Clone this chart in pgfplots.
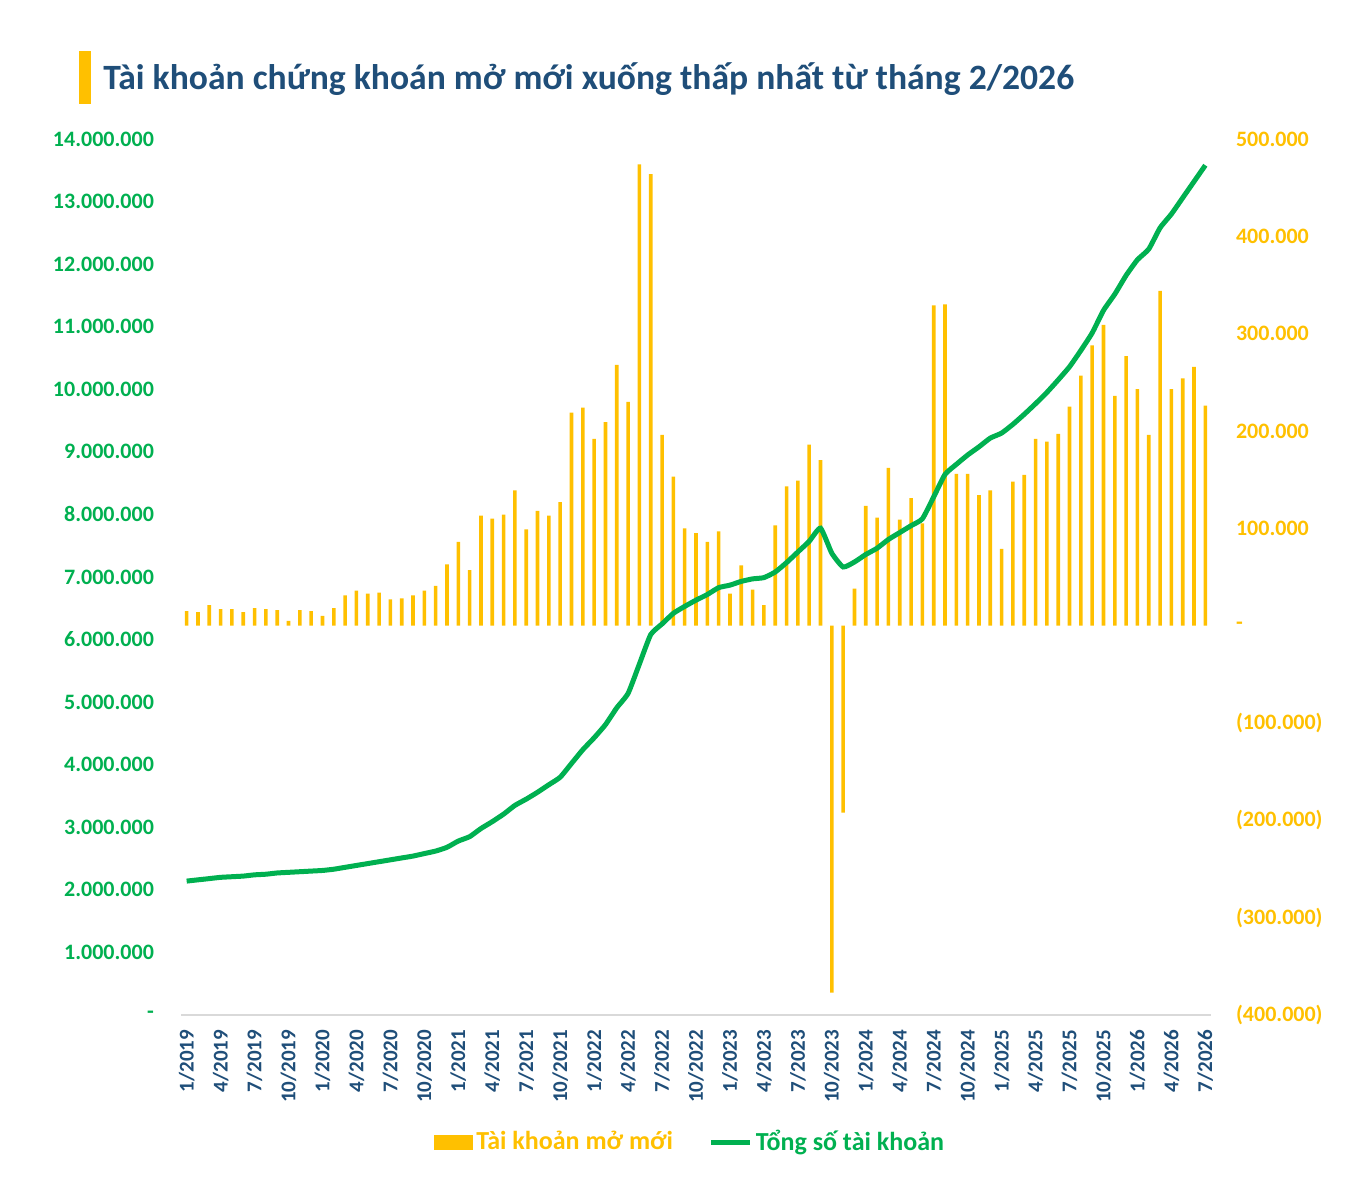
\documentclass[border=0pt]{standalone}
\usepackage{fontspec}
\setmainfont{Carlito}
\usepackage{pgfplots}
\usepackage{pgfplotstable}
\pgfplotsset{compat=1.18}
\definecolor{barc}{RGB}{255,192,0}
\definecolor{linec}{RGB}{0,176,80}
\definecolor{navy}{RGB}{31,78,121}
\definecolor{axgray}{RGB}{217,217,217}

\pgfplotstableread{
i new total
0 15000 2140000
1 14000 2160000
2 21000 2180000
3 17000 2200000
4 17000 2210000
5 14000 2220000
6 18000 2240000
7 17000 2250000
8 16000 2270000
9 5000 2280000
10 16000 2290000
11 15000 2300000
12 10000 2310000
13 18000 2330000
14 31000 2360000
15 36000 2390000
16 33000 2420000
17 34000 2450000
18 27000 2480000
19 28000 2510000
20 31000 2540000
21 36000 2580000
22 41000 2620000
23 63000 2680000
24 86000 2780000
25 57000 2850000
26 113000 2980000
27 110000 3090000
28 114000 3210000
29 139000 3350000
30 99000 3450000
31 118000 3560000
32 113000 3680000
33 127000 3800000
34 219000 4020000
35 224000 4240000
36 192000 4430000
37 209000 4640000
38 268000 4910000
39 230000 5140000
40 474000 5610000
41 464000 6080000
42 196000 6250000
43 153000 6420000
44 100000 6530000
45 95000 6630000
46 86000 6720000
47 97000 6830000
48 33000 6870000
49 62000 6930000
50 37000 6970000
51 21000 6990000
52 103000 7080000
53 143000 7230000
54 149000 7400000
55 186000 7570000
56 170000 7780000
57 -377000 7380000
58 -192000 7160000
59 38000 7240000
60 123000 7360000
61 111000 7460000
62 162000 7600000
63 109000 7710000
64 131000 7820000
65 105000 7930000
66 329000 8280000
67 330000 8640000
68 156000 8800000
69 156000 8950000
70 134000 9080000
71 139000 9220000
72 79000 9300000
73 148000 9440000
74 155000 9600000
75 192000 9770000
76 189000 9950000
77 197000 10150000
78 225000 10360000
79 257000 10620000
80 288000 10900000
81 309000 11260000
82 236000 11520000
83 277000 11820000
84 243000 12070000
85 196000 12240000
86 344000 12580000
87 243000 12800000
88 254000 13060000
89 266000 13320000
90 226000 13580000
}\data

\begin{document}
\begin{tikzpicture}
\useasboundingbox (0,0) rectangle (680pt,592pt);
% title
\fill[barc] (39.5pt,566.5pt) rectangle (45.5pt,540pt);
\node[anchor=base west, inner sep=0pt, text=navy, font=\fontsize{17.8}{21}\selectfont\bfseries] at (51.5pt,547pt) {Tài khoản chứng khoán mở mới xuống thấp nhất từ tháng 2/2026};

% bars, right axis
\begin{axis}[
  at={(90.5pt,84.5pt)}, anchor=south west,
  scale only axis, width=515pt, height=438pt,
  xmin=-0.5, xmax=90.5,
  ymin=-400000, ymax=500000,
  axis line style={draw=none},
  major tick length=0pt,
  xtick=\empty,
  ytick={-400000,-300000,-200000,-100000,0,100000,200000,300000,400000,500000},
  yticklabels={(400.000),(300.000),(200.000),(100.000),-,100.000,200.000,300.000,400.000,500.000},
  yticklabel pos=right,
  yticklabel style={anchor=west, xshift=9pt, text=barc, font=\fontsize{11}{13}\selectfont\bfseries},
  scaled y ticks=false,
  clip=false,
]
\addplot[ybar, bar width=1.8pt, fill=barc, draw=none] table[x=i, y=new] {\data};
\end{axis}

% line, left axis
\begin{axis}[
  at={(90.5pt,84.5pt)}, anchor=south west,
  scale only axis, width=515pt, height=438pt,
  xmin=-0.5, xmax=90.5,
  ymin=0, ymax=14000000,
  axis line style={draw=none},
  major tick length=0pt,
  xtick={0,3,...,90},
  xticklabels={1/2019,4/2019,7/2019,10/2019,1/2020,4/2020,7/2020,10/2020,1/2021,4/2021,7/2021,10/2021,1/2022,4/2022,7/2022,10/2022,1/2023,4/2023,7/2023,10/2023,1/2024,4/2024,7/2024,10/2024,1/2025,4/2025,7/2025,10/2025,1/2026,4/2026,7/2026},
  xticklabel style={rotate=90, anchor=east, xshift=-4pt, text=navy, font=\fontsize{10.5}{12}\selectfont\bfseries},
  ytick={0,1000000,2000000,3000000,4000000,5000000,6000000,7000000,8000000,9000000,10000000,11000000,12000000,13000000,14000000},
  yticklabels={-,1.000.000,2.000.000,3.000.000,4.000.000,5.000.000,6.000.000,7.000.000,8.000.000,9.000.000,10.000.000,11.000.000,12.000.000,13.000.000,14.000.000},
  yticklabel style={anchor=east, xshift=-10pt, text=linec, font=\fontsize{11}{13}\selectfont\bfseries},
  scaled y ticks=false,
  clip=false,
  legend style={at={(0.495,-0.145)}, anchor=center, draw=none, fill=none,
    legend columns=2, font=\fontsize{13}{15}\selectfont\bfseries,
    /tikz/every even column/.append style={column sep=16pt}},
]
\draw[axgray, line width=1pt] (axis cs:-0.5,0) -- (axis cs:90.5,0);
\addlegendimage{legend image code/.code={\fill[barc] (0pt,-3.5pt) rectangle (19pt,3.5pt);}}
\addlegendentry{\textcolor{barc}{Tài khoản mở mới}}
\addplot[linec, line width=2.5pt, smooth, tension=0.3, no marks,
  legend image code/.code={\draw[linec, line width=2.5pt] (0pt,0pt) -- (19pt,0pt);}]
  table[x=i, y=total] {\data};
\addlegendentry{\textcolor{linec}{Tổng số tài khoản}}
\end{axis}
\end{tikzpicture}
\end{document}
